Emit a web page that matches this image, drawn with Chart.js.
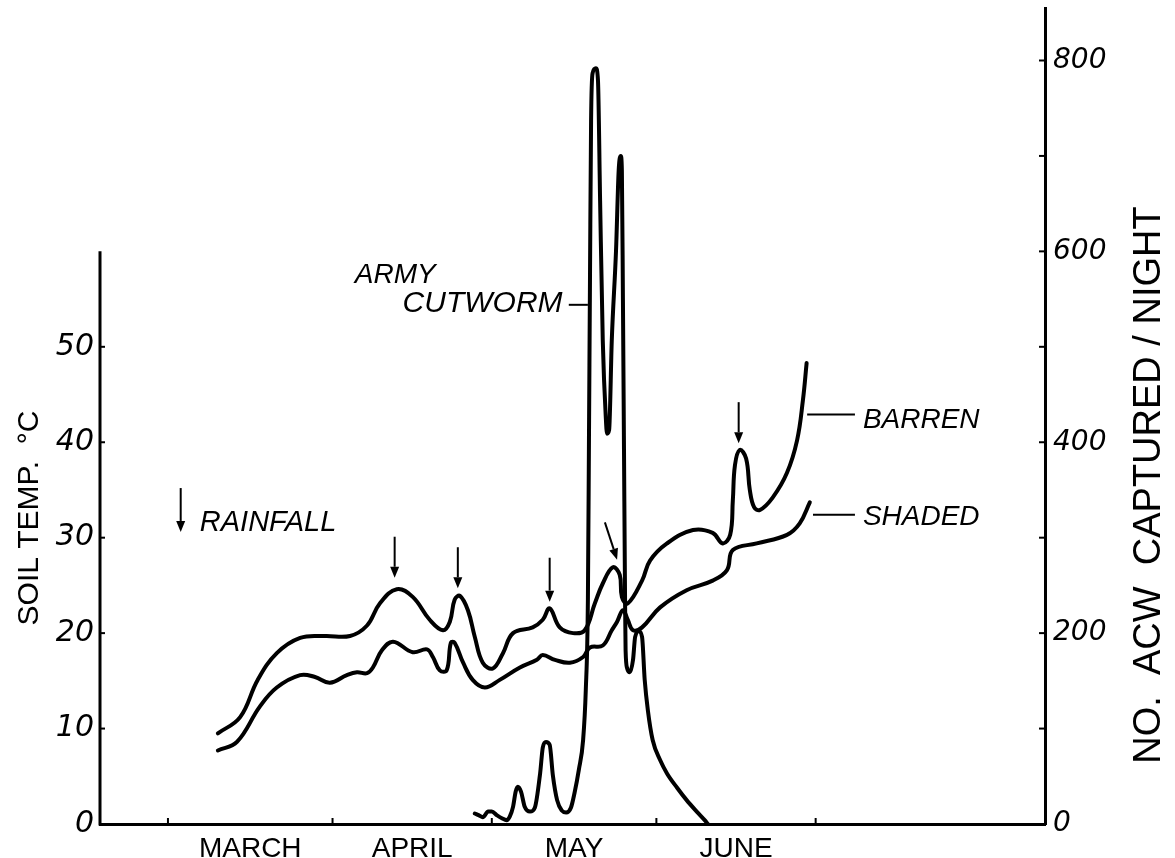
<!DOCTYPE html>
<html>
<head>
<meta charset="utf-8">
<title>Soil temperature and army cutworm captures</title>
<script src="https://cdn.jsdelivr.net/npm/chart.js@4.4.1/dist/chart.umd.min.js"></script>
<style>
  html, body { margin: 0; padding: 0; background: #fff; }
  #wrap { width: 1175px; height: 858px; }
</style>
</head>
<body>
<div id="wrap"><canvas id="chart" width="1175" height="858"></canvas></div>
<script>
// x values are days counted from 1 March
const months = ['MARCH', 'APRIL', 'MAY', 'JUNE'];
const monthStarts = [0, 31, 61, 92, 122];
const tempTicks = [0, 10, 20, 30, 40, 50];
const countTicks = [0, 200, 400, 600, 800];

const barrenDay = [9.4, 13.6, 16.9, 20.5, 24.9, 29.6, 34.3, 37.5, 39.9, 43.1,
  46.1, 49.3, 51.8, 53.1, 54.0, 55.0, 56.5, 57.8, 59.3, 61.2,
  63.1, 65.0, 68.7, 70.6, 71.9, 73.8, 76.3, 78.5, 80.4, 81.9,
  83.8, 85.1, 85.5, 86.6, 89.3, 90.8, 94.0, 98.9, 102.6, 104.5,
  105.9, 106.4, 106.8, 107.7, 108.9, 109.6, 110.4, 111.5, 113.9, 116.6,
  118.5, 119.6, 120.3];
const barrenTemp = [9.5, 11.2, 15.1, 17.9, 19.5, 19.7, 19.7, 20.8, 23.1, 24.6,
  23.8, 21.4, 20.3, 21.2, 23.5, 23.9, 22.4, 19.6, 16.9, 16.3,
  17.9, 20.0, 20.6, 21.4, 22.6, 20.6, 20.0, 20.3, 23.1, 25.2,
  26.9, 26.1, 23.8, 23.1, 25.5, 27.6, 29.4, 30.8, 30.5, 29.4,
  30.3, 33.9, 37.6, 39.2, 38.3, 35.0, 33.2, 32.9, 34.2, 36.8,
  40.2, 44.4, 48.3];

const shadedDay = [9.4, 13.0, 17.3, 20.5, 24.9, 27.7, 30.5, 33.7, 35.6, 37.5,
  38.6, 40.3, 42.4, 46.1, 48.8, 49.9, 51.2, 52.5, 53.3, 54.0,
  55.6, 57.4, 59.7, 62.5, 66.3, 69.5, 70.6, 72.9, 75.7, 78.2,
  79.5, 81.9, 83.6, 84.6, 85.7, 86.6, 87.6, 89.3, 92.7, 97.7,
  102.6, 105.3, 106.4, 110.9, 116.6, 119.0, 120.9];
const shadedTemp = [7.7, 8.6, 12.3, 14.3, 15.6, 15.4, 14.8, 15.6, 15.9, 15.8,
  16.4, 18.2, 19.1, 18.0, 18.3, 17.5, 16.1, 16.1, 19.0, 19.0,
  16.9, 15.1, 14.3, 15.1, 16.4, 17.2, 17.7, 17.2, 16.9, 17.5,
  18.5, 18.7, 20.3, 21.2, 22.4, 21.4, 20.3, 20.6, 22.7, 24.5,
  25.5, 26.6, 28.7, 29.4, 30.3, 31.5, 33.7];

const acwDay = [57.8, 58.6, 59.3, 60.3, 61.0, 62.0, 62.9, 63.8, 64.4, 65.0,
  65.5, 65.9, 66.5, 67.2, 68.2, 69.1, 70.1, 70.6, 71.2, 71.9,
  72.5, 73.3, 74.2, 75.0, 75.9, 76.6, 77.4, 78.2, 78.7, 79.1,
  79.3, 79.5, 79.7, 80.0, 80.6, 81.0, 81.4, 81.9, 82.5, 82.7,
  83.1, 83.6, 84.4, 84.9, 85.3, 85.5, 85.7, 85.9, 86.1, 86.2,
  86.5, 87.0, 87.6, 88.0, 88.7, 89.3, 89.8, 90.4, 91.3, 92.7,
  94.0, 95.9, 97.7, 99.6, 101.1, 101.7];
const acwCount = [11, 9, 7, 13, 13, 9, 6, 4, 8, 18,
  34, 39, 34, 18, 13, 17, 53, 80, 86, 83,
  51, 25, 14, 12, 17, 33, 57, 88, 140, 235,
  402, 577, 737, 787, 792, 779, 653, 507, 423, 409,
  413, 507, 601, 685, 700, 685, 549, 392, 235, 182,
  163, 159, 172, 196, 202, 196, 151, 119, 88, 67,
  53, 38, 25, 13, 4, 0];

// rainfall events: arrow tip (day, temp) and tail (day, temp)
const rainTipDay = [42.7, 54.6, 71.9, 84.6, 107.5];
const rainTipTemp = [25.8, 24.7, 23.3, 27.7, 39.9];
const rainTailDay = [42.7, 54.6, 71.9, 82.3, 107.5];
const rainTailTemp = [30.1, 29.0, 27.9, 31.6, 44.2];

const pts = (xs, ys) => xs.map((x, i) => ({ x, y: ys[i] }));
const NUM_FONT = '"DejaVu Sans", sans-serif';
const TXT_FONT = '"Liberation Sans", Arial, sans-serif';

function seg(ctx, x1, y1, x2, y2) {
  ctx.beginPath(); ctx.moveTo(x1, y1); ctx.lineTo(x2, y2); ctx.stroke();
}

function arrow(ctx, x1, y1, x2, y2) {
  const ang = Math.atan2(y2 - y1, x2 - x1);
  const hl = 11, hw = 4.5;
  const bx = x2 - hl * Math.cos(ang), by = y2 - hl * Math.sin(ang);
  ctx.lineWidth = 2;
  seg(ctx, x1, y1, bx, by);
  ctx.beginPath();
  ctx.moveTo(x2, y2);
  ctx.lineTo(bx + hw * Math.sin(ang), by - hw * Math.cos(ang));
  ctx.lineTo(bx - hw * Math.sin(ang), by + hw * Math.cos(ang));
  ctx.closePath();
  ctx.fill();
}

// keep the plot area where the drawing had it: no extra room for end labels
function noEndPadding(s) { s.paddingTop = 0; s.paddingBottom = 0; }

const decor = {
  id: 'decor',
  afterDraw(chart) {
    const { ctx, chartArea: a, scales: { x, yT, yN } } = chart;
    const px = v => x.getPixelForValue(v);
    const py = v => yT.getPixelForValue(v);
    ctx.save();
    ctx.strokeStyle = '#000';
    ctx.fillStyle = '#000';

    // left axis stops at 60 degrees
    ctx.lineWidth = 3;
    seg(ctx, a.left, a.bottom + 1.5, a.left, py(60));
    // inside tick marks
    ctx.lineWidth = 2;
    tempTicks.slice(1).forEach(v => seg(ctx, a.left, py(v), a.left + 5, py(v)));
    for (let v = 100; v <= 800; v += 100) {
      seg(ctx, a.right - 6, yN.getPixelForValue(v), a.right, yN.getPixelForValue(v));
    }
    monthStarts.forEach(d => seg(ctx, px(d), a.bottom, px(d), a.bottom - 6));

    // rainfall arrows
    rainTipDay.forEach((d, i) => {
      arrow(ctx, px(rainTailDay[i]), py(rainTailTemp[i]), px(d), py(rainTipTemp[i]));
    });
    arrow(ctx, px(2.4), py(35.2), px(2.4), py(30.6));

    // labels
    ctx.textAlign = 'left';
    ctx.textBaseline = 'alphabetic';
    ctx.font = 'italic 29px ' + TXT_FONT;
    ctx.fillText('RAINFALL', px(6.0), py(30.7));
    ctx.font = 'italic 28px ' + TXT_FONT;
    ctx.fillText('ARMY', px(35.2), py(56.7));
    ctx.fillText('BARREN', px(130.9), py(41.5));
    ctx.fillText('SHADED', px(130.9), py(31.3));
    ctx.font = 'italic 30px ' + TXT_FONT;
    ctx.fillText('CUTWORM', px(44.2), py(53.6));
    ctx.lineWidth = 2;
    seg(ctx, px(75.5), py(54.4), px(79.1), py(54.4));
    seg(ctx, px(120.4), py(42.9), px(129.4), py(42.9));
    seg(ctx, px(121.5), py(32.4), px(129.4), py(32.4));

    // axis titles
    ctx.textAlign = 'center';
    ctx.textBaseline = 'middle';
    ctx.save();
    ctx.translate(30, 518);
    ctx.rotate(-Math.PI / 2);
    ctx.font = '30px ' + TXT_FONT;
    ctx.fillText('SOIL TEMP.  \u00B0C', 0, 0);
    ctx.restore();
    ctx.save();
    ctx.translate(1150, 485);
    ctx.rotate(-Math.PI / 2);
    ctx.font = '38px ' + TXT_FONT;
    ctx.fillText('NO.  ACW  CAPTURED / NIGHT', 0, 0);
    ctx.restore();
    ctx.restore();
  }
};

new Chart(document.getElementById('chart'), {
  type: 'line',
  data: {
    datasets: [
      { label: 'Barren', data: pts(barrenDay, barrenTemp), yAxisID: 'yT',
        borderColor: '#000', borderWidth: 4, tension: 0.4, pointRadius: 0,
        borderCapStyle: 'round', borderJoinStyle: 'round' },
      { label: 'Shaded', data: pts(shadedDay, shadedTemp), yAxisID: 'yT',
        borderColor: '#000', borderWidth: 4, tension: 0.4, pointRadius: 0,
        borderCapStyle: 'round', borderJoinStyle: 'round' },
      { label: 'Army cutworm', data: pts(acwDay, acwCount), yAxisID: 'yN',
        borderColor: '#000', borderWidth: 4, cubicInterpolationMode: 'monotone',
        pointRadius: 0, borderCapStyle: 'round', borderJoinStyle: 'round' }
    ]
  },
  options: {
    responsive: false,
    animation: false,
    devicePixelRatio: 1,
    layout: { padding: { top: 8, left: 0, right: 0, bottom: 0 } },
    plugins: { legend: { display: false }, tooltip: { enabled: false } },
    scales: {
      x: {
        type: 'linear', min: -12.8, max: 165.2,
        afterBuildTicks: s => { s.ticks = months.map((m, i) => ({ value: (monthStarts[i] + monthStarts[i + 1]) / 2 })); },
        afterFit: s => { s.height = 34; s.paddingLeft = 0; s.paddingRight = 0; },
        grid: { drawOnChartArea: false, drawTicks: false },
        border: { color: '#000', width: 3 },
        ticks: {
          autoSkip: false, maxRotation: 0, padding: 8, color: '#000',
          font: { family: TXT_FONT, size: 28 },
          callback: (v, i) => months[i]
        }
      },
      yT: {
        position: 'left', min: 0, max: 85.5,
        afterBuildTicks: s => { s.ticks = tempTicks.map(v => ({ value: v })); },
        afterFit: s => { s.width = 100; noEndPadding(s); },
        grid: { drawOnChartArea: false, drawTicks: false },
        border: { display: false },
        ticks: { padding: 6, color: '#000', font: { family: NUM_FONT, size: 30, style: 'italic' } }
      },
      yN: {
        position: 'right', min: 0, max: 855,
        afterBuildTicks: s => { s.ticks = countTicks.map(v => ({ value: v })); },
        afterFit: s => { s.width = 130; noEndPadding(s); },
        grid: { drawOnChartArea: false, drawTicks: false },
        border: { color: '#000', width: 3 },
        ticks: { padding: 8, color: '#000', font: { family: NUM_FONT, size: 28, style: 'italic' } }
      }
    }
  },
  plugins: [decor]
});
</script>
</body>
</html>
